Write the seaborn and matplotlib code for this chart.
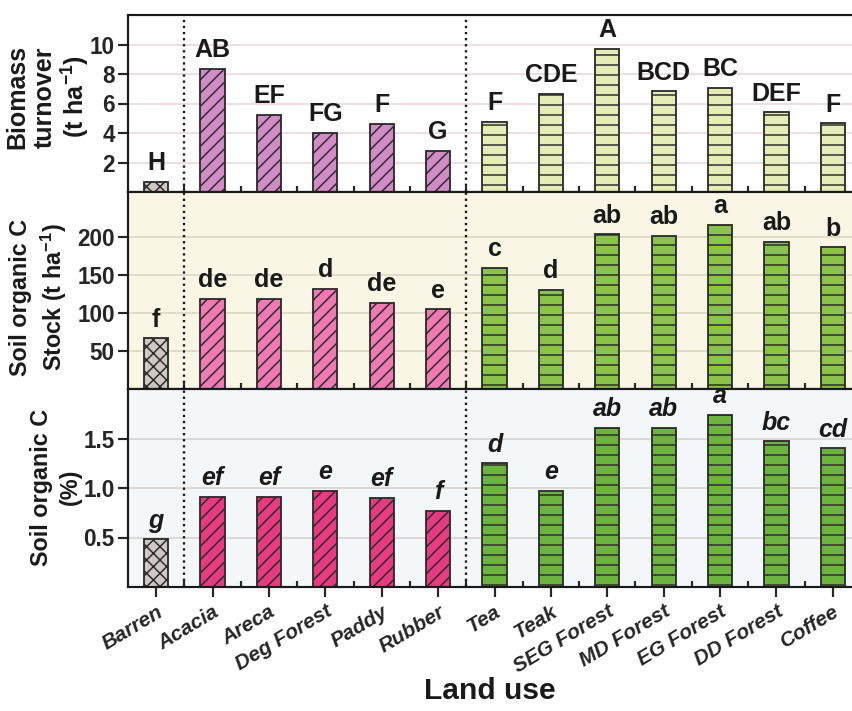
import numpy as np
import pandas as pd
import matplotlib
matplotlib.use('Agg')
import matplotlib.pyplot as plt
import seaborn as sns

# ── Data ──────────────────────────────────────────────────────
land_use = ['Barren', 'Acacia', 'Areca', 'Deg Forest', 'Paddy', 'Rubber',
            'Tea', 'Teak', 'SEG Forest', 'MD Forest', 'EG Forest',
            'DD Forest', 'Coffee']

biomass         = [0.7, 8.35, 5.25, 4.0, 4.63, 2.8, 4.75, 6.65, 9.7, 6.83, 7.05, 5.4, 4.65]
biomass_letters = ['H', 'AB', 'EF', 'FG', 'F', 'G', 'F', 'CDE', 'A', 'BCD', 'BC', 'DEF', 'F']

soc_stock       = [67, 119, 119, 132, 114, 105, 160, 131, 204, 202, 217, 194, 187]
stock_letters   = ['f', 'de', 'de', 'd', 'de', 'e', 'c', 'd', 'ab', 'ab', 'a', 'ab', 'b']

soc_pct         = [0.48, 0.91, 0.91, 0.97, 0.90, 0.77, 1.25, 0.97, 1.61, 1.61, 1.74, 1.47, 1.40]
pct_letters     = ['g', 'ef', 'ef', 'e', 'ef', 'f', 'd', 'e', 'ab', 'ab', 'a', 'bc', 'cd']

# groups: barren / plantation+paddy / tree crops & forests
group = ['barren'] + ['mid'] * 5 + ['forest'] * 7

# ── Style ─────────────────────────────────────────────────────
sns.set_style('ticks')
plt.rcParams['font.family'] = ['Liberation Sans', 'DejaVu Sans']
plt.rcParams['font.weight'] = 'bold'
plt.rcParams['mathtext.fontset'] = 'custom'
plt.rcParams['mathtext.rm'] = 'Liberation Sans:bold'
plt.rcParams['mathtext.bf'] = 'Liberation Sans:bold'
plt.rcParams['mathtext.it'] = 'Liberation Sans:bold:italic'
plt.rcParams['mathtext.default'] = 'bf'
plt.rcParams['hatch.linewidth'] = 0.9
plt.rcParams['hatch.color'] = '#2b2b2b'
plt.rcParams['axes.linewidth'] = 1.3
plt.rcParams['axes.edgecolor'] = '#1a1a1a'

HATCH = {'barren': 'xxx', 'mid': '///', 'forest': '--'}

DPI = 120
fig = plt.figure(figsize=(852 / DPI, 711 / DPI), dpi=DPI)
LEFT, WIDTH = 128 / 852, 733 / 852


def px_axes(top, bottom):
    return fig.add_axes([LEFT, 1 - bottom / 711, WIDTH, (bottom - top) / 711])


panels = [
    dict(ax=px_axes(15, 192), vals=biomass, letters=biomass_letters,
         colors={'barren': '#CFC7C3', 'mid': '#D18BC7', 'forest': '#E6ECB5'},
         bg='white', grid='#EBD7DC', ylim=(0, 12), yticks=[2, 4, 6, 8, 10],
         yfmt='{:g}', italic=False),
    dict(ax=px_axes(192, 389), vals=soc_stock, letters=stock_letters,
         colors={'barren': '#CFC7C3', 'mid': '#F07AB4', 'forest': '#8BC34A'},
         bg='#F9F6E6', grid='#DDD7C2', ylim=(0, 260), yticks=[50, 100, 150, 200],
         yfmt='{:g}', italic=False),
    dict(ax=px_axes(389, 587), vals=soc_pct, letters=pct_letters,
         colors={'barren': '#CFC7C3', 'mid': '#E83A80', 'forest': '#6DB33F'},
         bg='#F3F7FA', grid='#D9D3CB', ylim=(0, 2.0), yticks=[0.5, 1.0, 1.5],
         yfmt='{:.1f}', italic=True),
]

for k, p in enumerate(panels):
    ax = p['ax']
    df = pd.DataFrame({'land_use': land_use, 'value': p['vals'], 'group': group})
    pal = {lu: p['colors'][g] for lu, g in zip(land_use, group)}
    ax.set_facecolor(p['bg'])
    sns.barplot(data=df, x='land_use', y='value', hue='land_use', palette=pal,
                legend=False, width=0.43, errorbar=None, saturation=1,
                edgecolor='#2b2b2b', linewidth=1.1, ax=ax)
    bars = sorted(ax.patches, key=lambda r: r.get_x())
    for bar, g in zip(bars, group):
        bar.set_hatch(HATCH[g])

    for i, (v, t) in enumerate(zip(p['vals'], p['letters'])):
        ax.annotate(t, (i, v), xytext=(0, 4), textcoords='offset points',
                    ha='center', va='bottom', fontsize=15, fontweight='bold',
                    fontstyle='italic' if p['italic'] else 'normal',
                    color='#1a1a1a')

    for xv in (0.5, 5.5):
        ax.axvline(xv, color='#1a1a1a', ls=(0, (1, 1.6)), lw=1.4, zorder=3)

    ax.set_xlim(-0.5, 12.5)
    ax.set_ylim(*p['ylim'])
    ax.set_yticks(p['yticks'])
    ax.set_yticklabels([p['yfmt'].format(t) for t in p['yticks']])
    ax.yaxis.grid(True, color=p['grid'], lw=1.0)
    ax.set_axisbelow(True)
    ax.tick_params(axis='y', direction='out', length=6, width=1.3,
                   labelsize=13.5, pad=2)
    ax.set_xticks(np.arange(0.5, 12.5, 1), minor=True)
    ax.tick_params(axis='x', which='minor', direction='in', length=3.5, width=1.3)
    ax.set_xlabel('')
    ax.set_ylabel('')
    if k < 2:
        ax.tick_params(axis='x', which='major', length=0, labelbottom=False)
    else:
        ax.set_xticks(range(len(land_use)))
        ax.set_xticklabels(land_use, rotation=31, ha='right',
                           rotation_mode='anchor', fontstyle='italic',
                           fontsize=12.5)
        ax.tick_params(axis='x', which='major', direction='out', length=6,
                       width=1.3, pad=3)

# ── Axis titles ───────────────────────────────────────────────
fig.text(49 / 852, 1 - 97 / 711, 'Biomass\nturnover\n(t ha$^{-1}$)',
         rotation=90, ha='center', va='center', fontsize=15,
         linespacing=1.15, color='#1a1a1a')
fig.text(39 / 852, 1 - 297 / 711, 'Soil organic C\nStock (t ha$^{-1}$)',
         rotation=90, ha='center', va='center', fontsize=14,
         linespacing=1.3, color='#1a1a1a')
fig.text(56 / 852, 1 - 487 / 711, 'Soil organic C\n(%)',
         rotation=90, ha='center', va='center', fontsize=14,
         linespacing=1.3, color='#1a1a1a')
fig.text(490 / 852, 1 - 691 / 711, 'Land use', ha='center', va='center',
         fontsize=18, color='#1a1a1a')

fig.savefig('out.png', dpi=DPI)
